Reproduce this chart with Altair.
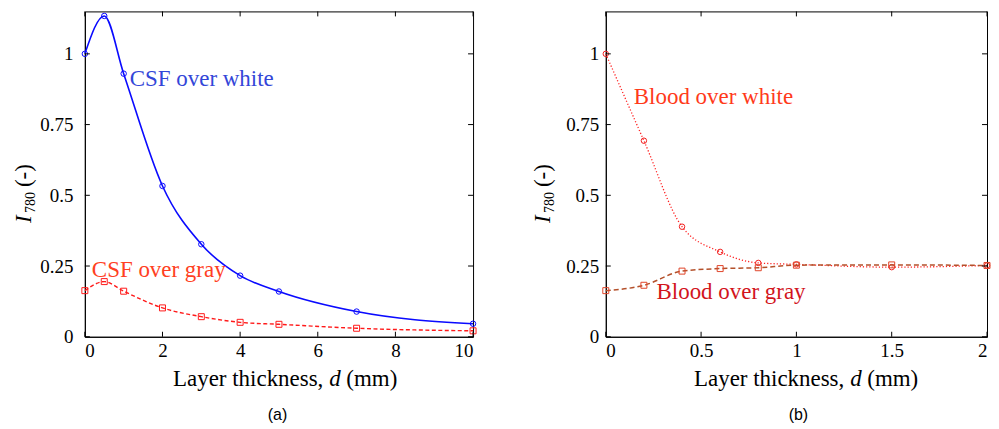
import altair as alt
import pandas as pd

# ---------------- data ----------------
left_x = [0, 0.5, 1, 2, 3, 4, 5, 7, 10]
csf_white = [1.0, 1.134, 0.93, 0.533, 0.327, 0.216, 0.16, 0.089, 0.046]
csf_gray = [0.163, 0.195, 0.161, 0.102, 0.071, 0.051, 0.044, 0.030, 0.021]

right_x = [0, 0.2, 0.4, 0.6, 0.8, 1, 1.5, 2]
blood_white = [1.0, 0.693, 0.389, 0.30, 0.261, 0.256, 0.246, 0.252]
blood_gray = [0.163, 0.182, 0.232, 0.241, 0.244, 0.253, 0.254, 0.252]

left_xticks = [0, 2, 4, 6, 8, 10]
right_xticks = [0, 0.5, 1, 1.5, 2]
yticks = [0, 0.25, 0.5, 0.75, 1]

left_labels = ["CSF over white", "CSF over gray"]
left_label_x = [1.157, 0.18]
left_label_y = [0.885, 0.212]
right_labels = ["Blood over white", "Blood over gray"]
right_label_x = [0.147, 0.266]
right_label_y = [0.822, 0.134]

H = 326
SERIF = "Liberation Serif, Times New Roman, serif"
SANS = "Liberation Sans, Arial, sans-serif"
LABEL_EXPR = "'' + datum.value"


def xenc(dom, ticks):
    return alt.X("x:Q", scale=alt.Scale(domain=dom, nice=False, zero=False),
                 axis=alt.Axis(values=ticks, labelExpr=LABEL_EXPR, title=None, labelPadding=5))


def yenc(pad):
    return alt.Y("y:Q", scale=alt.Scale(domain=[0, 1.15], nice=False, zero=False),
                 axis=alt.Axis(values=yticks, labelExpr=LABEL_EXPR, title=None, labelPadding=pad))


def txt(t, x, y, size=23, italic=False, angle=0, align="left", font=SERIF, baseline="alphabetic"):
    kw = dict(align=align, baseline=baseline, font=font, fontSize=size, color="black")
    if italic:
        kw["fontStyle"] = "italic"
    if angle:
        kw["angle"] = angle
    return alt.Chart(pd.DataFrame({"t": [t]})).mark_text(**kw).encode(
        x=alt.value(x), y=alt.value(y), text="t:N")


def panel(xs, series, dom, xticks, labels, lx, ly, label_colors, tag, ypad, W, ytx):
    X = xenc(dom, xticks)
    Y = yenc(ypad)
    layers = []
    # invisible anchor fixing the top-left extent of the panel's bounds
    layers.append(alt.Chart(pd.DataFrame({"a": [0]})).mark_rule(opacity=0, strokeWidth=0).encode(
        x=alt.value(-76), x2=alt.value(-70), y=alt.value(-2)))
    for ys, col, mcol, dash, shape, msize, sw in series:
        df = pd.DataFrame({"x": xs, "y": ys})
        lkw = dict(color=col, strokeWidth=sw, interpolate="monotone")
        if dash:
            lkw["strokeDash"] = dash
        layers.append(alt.Chart(df).mark_line(**lkw).encode(x=X, y=Y))
        layers.append(alt.Chart(df).mark_point(shape=shape, size=msize, filled=False,
                                               color=mcol, strokeWidth=1, opacity=1)
                      .encode(x=X, y=Y))
    # inward ticks
    xt = pd.DataFrame({"x": xticks})
    yt = pd.DataFrame({"y": yticks})
    layers.append(alt.Chart(xt).mark_rule(color="black", strokeWidth=1).encode(
        x=X, y=alt.value(H), y2=alt.value(H - 5)))
    layers.append(alt.Chart(xt).mark_rule(color="black", strokeWidth=1).encode(
        x=X, y=alt.value(0), y2=alt.value(5)))
    layers.append(alt.Chart(yt).mark_rule(color="black", strokeWidth=1).encode(
        y=Y, x=alt.value(0), x2=alt.value(5)))
    layers.append(alt.Chart(yt).mark_rule(color="black", strokeWidth=1).encode(
        y=Y, x=alt.value(W), x2=alt.value(W - 5)))
    # annotations
    for t, x, y, c in zip(labels, lx, ly, label_colors):
        d = pd.DataFrame({"x": [x], "y": [y], "t": [t]})
        layers.append(alt.Chart(d).mark_text(align="left", baseline="alphabetic", font=SERIF,
                                             fontSize=23, color=c).encode(x=X, y=Y, text="t:N"))
    # y title
    layers.append(txt("I", ytx, 212, size=23, italic=True, angle=270))
    layers.append(txt("780", ytx + 4, 202, size=14, angle=270))
    layers.append(txt("(-)", ytx, 176, size=23, angle=270))
    # x title
    layers.append(txt("Layer thickness,", 239, 375, align="right"))
    layers.append(txt("d", 245, 375, italic=True))
    layers.append(txt("(mm)", 262, 375))
    # panel tag
    layers.append(txt(tag, 193, 404, size=16, align="center", font=SANS, baseline="middle"))
    return alt.layer(*layers).properties(width=W, height=H)


left = panel(left_x,
             [(csf_white, "#0a0aff", "#0a0aff", None, "circle", 30, 1.6),
              (csf_gray, "#ff1a1a", "#ff1a1a", [4, 2.5], "square", 36, 1.4)],
             [0, 10], left_xticks, left_labels, left_label_x, left_label_y,
             ["#3346d8", "#ff4022"], "(a)", 12, 389, -54)

right = panel(right_x,
              [(blood_white, "#ff2020", "#f02020", [1.2, 2], "circle", 30, 1.3),
               (blood_gray, "#b4502a", "#e0452a", [5, 3], "square", 36, 1.5)],
              [0, 2], right_xticks, right_labels, right_label_x, right_label_y,
              ["#ff3a1a", "#d2141c"], "(b)", 7, 382, -56)

chart = alt.hconcat(left, right, spacing=133, bounds="flush").properties(
    padding={"left": 0, "top": 0, "right": -2, "bottom": 0}
).configure_view(stroke="black", strokeWidth=1).configure_axis(
    labelFont=SERIF, labelFontSize=19, labelColor="black",
    domainColor="black", domainWidth=1, grid=False, ticks=False
)

chart.save("out.html", embed_options={"renderer": "svg", "actions": False})
